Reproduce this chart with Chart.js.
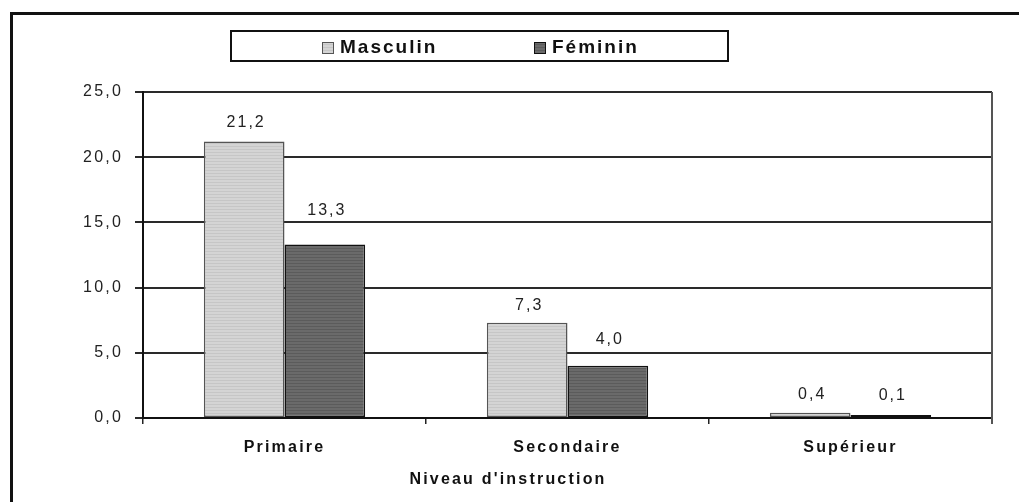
<!DOCTYPE html>
<html>
<head>
<meta charset="utf-8">
<script src="https://cdn.jsdelivr.net/npm/chart.js@4/dist/chart.umd.min.js"></script>
<style>
  html, body { margin: 0; padding: 0; background: #fff; }
  #wrap { position: relative; width: 1019px; height: 502px; overflow: hidden; }
  #frame { position: absolute; left: 10px; top: 12px; width: 2000px; height: 1000px;
           border-top: 3px solid #111; border-left: 3px solid #111; box-sizing: border-box; }
  canvas { position: absolute; left: 0; top: 0; }
</style>
</head>
<body>
<div id="wrap">
  <div id="frame"></div>
  <canvas id="c" width="1019" height="502"></canvas>
</div>
<script>
const categories = ["Primaire", "Secondaire", "Supérieur"];
const seriesNames = ["Masculin", "Féminin"];
const masculin = [21.2, 7.3, 0.4];
const feminin = [13.3, 4.0, 0.1];
const yTicks = [0, 5, 10, 15, 20, 25];
const axisTitle = "Niveau d'instruction";

const FONT = "'Liberation Sans', Arial, sans-serif";
const fmt = v => v.toFixed(1).replace('.', ',');

function stripes(a, b) {
  const p = document.createElement('canvas');
  p.width = 4; p.height = 3;
  const g = p.getContext('2d');
  g.fillStyle = a; g.fillRect(0, 0, 4, 3);
  g.fillStyle = b; g.fillRect(0, 2, 4, 1);
  return document.getElementById('c').getContext('2d').createPattern(p, 'repeat');
}
const lightFill = stripes('#d4d4d4', '#c6c6c6');
const darkFill = stripes('#6a6a6a', '#5b5b5b');

const decor = {
  id: 'decor',
  beforeDraw(chart) {
    chart.ctx.letterSpacing = '2.2px';
  },
  afterDraw(chart, args, opts) {
    const ctx = chart.ctx;
    const a = chart.chartArea;
    ctx.save();
    // right frame of plot
    ctx.strokeStyle = '#555';
    ctx.lineWidth = 2;
    ctx.beginPath();
    ctx.moveTo(a.right, a.top);
    ctx.lineTo(a.right, a.bottom + 6);
    ctx.stroke();

    // data labels
    ctx.letterSpacing = '2px';
    ctx.fillStyle = '#222';
    ctx.font = '16px ' + FONT;
    ctx.textAlign = 'center';
    ctx.textBaseline = 'middle';
    chart.data.datasets.forEach((ds, i) => {
      const meta = chart.getDatasetMeta(i);
      meta.data.forEach((bar, j) => {
        ctx.fillText(fmt(ds.data[j]), bar.x + 2, bar.y - opts.labelGap[i][j]);
      });
    });

    // axis title
    ctx.letterSpacing = '2.2px';
    ctx.font = 'bold 16px ' + FONT;
    ctx.fillStyle = '#111';
    ctx.fillText(axisTitle, 508, 480);

    // legend box
    ctx.strokeStyle = '#111';
    ctx.lineWidth = 2;
    ctx.strokeRect(231, 31, 497, 30);
    const items = [{x: 322}, {x: 534}];
    ctx.letterSpacing = '2px';
    ctx.font = 'bold 19px ' + FONT;
    ctx.textAlign = 'left';
    chart.data.datasets.forEach((ds, i) => {
      const x = items[i].x;
      ctx.fillStyle = ds.backgroundColor;
      ctx.fillRect(x, 42, 12, 12);
      ctx.strokeStyle = ds.borderColor;
      ctx.lineWidth = 1;
      ctx.strokeRect(x + 0.5, 42.5, 11, 11);
      ctx.fillStyle = '#111';
      ctx.fillText(ds.label, x + 18, 48);
    });
    ctx.restore();
  }
};

new Chart(document.getElementById('c'), {
  type: 'bar',
  data: {
    labels: categories,
    datasets: [
      { label: seriesNames[0], data: masculin, backgroundColor: lightFill, borderColor: '#555', borderWidth: 1.5, borderSkipped: false },
      { label: seriesNames[1], data: feminin, backgroundColor: darkFill, borderColor: '#111', borderWidth: 1.5, borderSkipped: false, minBarLength: 3 }
    ]
  },
  options: {
    responsive: false,
    animation: false,
    events: [],
    layout: { padding: { top: 92, right: 27, bottom: 0, left: 0 } },
    categoryPercentage: 0.57,
    barPercentage: 1,
    plugins: {
      legend: { display: false }, tooltip: { enabled: false },
      decor: { labelGap: [[19, 17, 18], [34, 26, 19]] }
    },
    scales: {
      x: {
        afterFit(s) { s.height = 84; },
        grid: { offset: true, drawOnChartArea: false, drawTicks: true, tickLength: 6, color: '#222', lineWidth: 1.5 },
        border: { display: true, color: '#111', width: 2 },
        ticks: { color: '#111', padding: 14, font: { family: FONT, size: 16, weight: 'bold' } }
      },
      y: {
        min: 0, max: 25,
        afterFit(s) { s.width = 143; },
        afterBuildTicks(s) { s.ticks = yTicks.map(v => ({ value: v })); },
        grid: { color: '#2a2a2a', lineWidth: 2, drawTicks: true, tickLength: 8 },
        border: { display: true, color: '#111', width: 2 },
        ticks: { color: '#222', padding: 12, font: { family: FONT, size: 16 }, callback: v => fmt(v) }
      }
    }
  },
  plugins: [decor]
});
</script>
</body>
</html>
